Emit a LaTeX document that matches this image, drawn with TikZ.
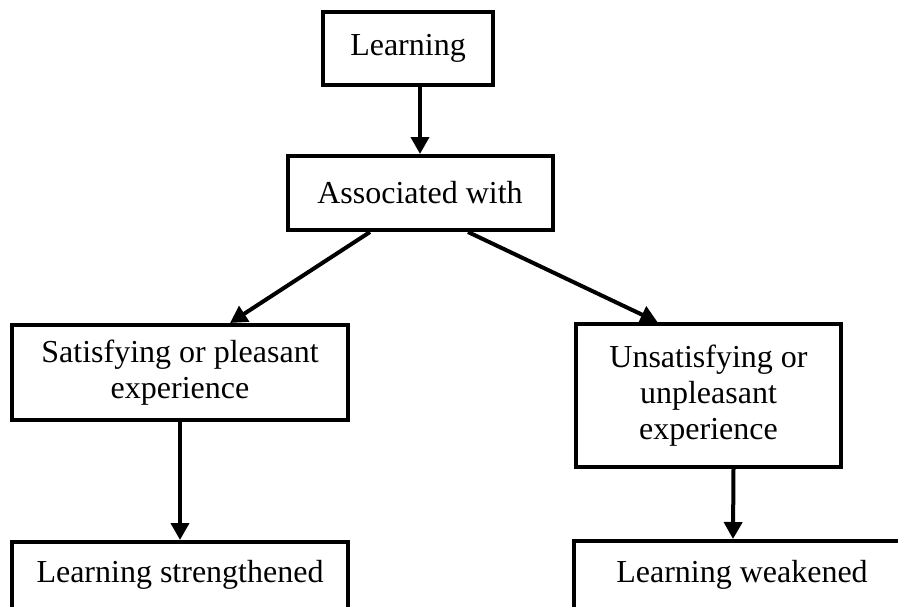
\documentclass[tikz,border=0pt]{standalone}
\usepackage{fontspec}
\setmainfont{Liberation Serif}
\usetikzlibrary{arrows.meta}
\begin{document}
\begin{tikzpicture}[x=1pt,y=-1pt,
  box/.style={draw=black,line width=4pt,fill=white,align=center,inner sep=0pt,
    font=\fontsize{32}{36}\selectfont},
  arr/.style={line width=4pt,-{Triangle[length=17pt,width=18pt]}}]
\useasboundingbox (0,0) rectangle (898,606);
\clip (0,0) rectangle (898,606);
\node[box,minimum width=170pt,minimum height=73pt] (learn) at (408,48.5) {Learning};
\node[box,minimum width=265pt,minimum height=74pt] (assoc) at (420,193) {Associated with};
\node[box,minimum width=336pt,minimum height=95pt] (sat) at (180,372.5) {Satisfying or pleasant\\experience};
\node[box,minimum width=265pt,minimum height=143pt] (unsat) at (708.5,395.5) {Unsatisfying or\\unpleasant\\experience};
\node[box,minimum width=336pt,text height=40pt,text depth=100pt,anchor=north] (ls) at (180,540) {Learning strengthened};
\node[box,minimum width=336pt,text height=41pt,text depth=100pt,anchor=north] (lw) at (742,539) {Learning weakened};
\draw[arr] (learn.south -| assoc) -- (assoc.north);
\draw[arr] ([xshift=-50pt]assoc.south) -- ([xshift=50pt]sat.north);
\draw[arr] ([xshift=48pt]assoc.south) -- ([xshift=-51pt]unsat.north);
\draw[arr] (sat.south) -- (ls.north);
\draw[arr] ([xshift=25pt]unsat.south) -- ([xshift=-9pt]lw.north);
\end{tikzpicture}
\end{document}
